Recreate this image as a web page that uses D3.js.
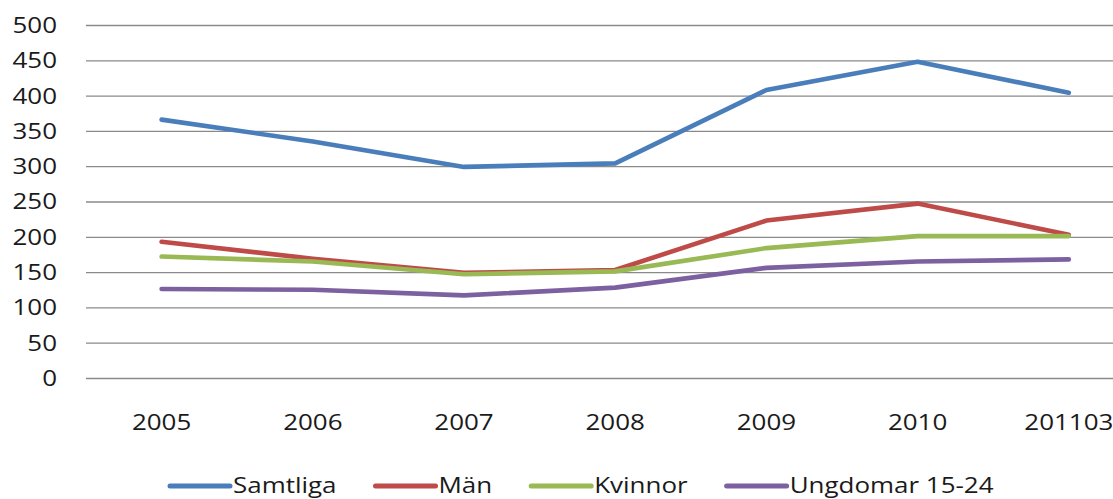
<!DOCTYPE html>
<html>
<head>
<meta charset="utf-8">
<script src="https://cdn.jsdelivr.net/npm/d3@7"></script>
<style>
  html, body { margin: 0; padding: 0; background: #fff; }
  svg { display: block; }
  text { font-family: "Open Sans", "DejaVu Sans", sans-serif; fill: #1a1a1a; }
</style>
</head>
<body>
<svg id="chart" width="1113" height="499"></svg>
<script>
// Categories (years / period) on the x axis
const categories = ["2005", "2006", "2007", "2008", "2009", "2010", "201103"];

// Series values
const samtliga = [366, 335, 299, 304, 408, 448, 404];
const man      = [193, 169, 149, 153, 223, 247, 203];
const kvinnor  = [172, 165, 147, 151, 184, 201, 201];
const ungdomar = [126, 125, 117, 128, 156, 165, 168];

// Y axis tick labels
const yTicks = [0, 50, 100, 150, 200, 250, 300, 350, 400, 450, 500];

const seriesNames = ["Samtliga", "Män", "Kvinnor", "Ungdomar 15-24"];
const seriesColors = ["#4a7ebb", "#be4b48", "#98b954", "#7d60a0"];

const series = [samtliga, man, kvinnor, ungdomar].map((values, i) => ({
  name: seriesNames[i],
  color: seriesColors[i],
  values
}));

const svg = d3.select("#chart");
const stretch = 1.18;           // horizontal glyph stretch of the labels
const fontSize = 22;

const plotLeft = 86, bandW = 151.2;
const plotTop = 25, plotBottom = 378;

const x = d3.scaleBand()
  .domain(categories)
  .range([plotLeft, plotLeft + bandW * categories.length])
  .paddingInner(0).paddingOuter(0);

const y = d3.scaleLinear().domain([0, 500]).range([plotBottom, plotTop]);

// Horizontal gridlines with y labels
const yAxis = svg.append("g")
  .attr("transform", `translate(${plotLeft},0)`)
  .call(d3.axisLeft(y).tickValues(yTicks).tickSize(-(1113 - plotLeft)).tickFormat(d3.format("d")));
yAxis.select(".domain").remove();
yAxis.selectAll(".tick line").attr("stroke", "#8a8a8a").attr("stroke-width", 1.3);
yAxis.selectAll(".tick text")
  .attr("font-size", fontSize)
  .attr("font-family", "Open Sans, DejaVu Sans, sans-serif")
  .attr("fill", "#1a1a1a")
  .attr("x", -29 / stretch)
  .attr("dy", "0.34em")
  .attr("transform", `scale(${stretch},1)`);

// Category labels
const xAxis = svg.append("g")
  .attr("transform", `translate(0,${plotBottom})`)
  .call(d3.axisBottom(x).tickSize(0));
xAxis.select(".domain").remove();
xAxis.selectAll(".tick text")
  .attr("font-size", fontSize)
  .attr("font-family", "Open Sans, DejaVu Sans, sans-serif")
  .attr("fill", "#1a1a1a")
  .attr("y", 52)
  .attr("dy", "0")
  .attr("text-anchor", "middle")
  .attr("transform", `scale(${stretch},1)`);

// Lines
const line = d3.line()
  .x((d, i) => x(categories[i]) + x.bandwidth() / 2)
  .y(d => y(d));

svg.append("g").selectAll("path")
  .data(series)
  .join("path")
  .attr("d", d => line(d.values))
  .attr("fill", "none")
  .attr("stroke", d => d.color)
  .attr("stroke-width", 4.6)
  .attr("stroke-linejoin", "round")
  .attr("stroke-linecap", "round");

// Legend
const legend = svg.append("g");
let cursor = 170;
const legY = 486, lineLen = 60, gap = 39;
series.forEach(s => {
  legend.append("line")
    .attr("x1", cursor).attr("x2", cursor + lineLen)
    .attr("y1", legY).attr("y2", legY)
    .attr("stroke", s.color).attr("stroke-width", 5)
    .attr("stroke-linecap", "round");
  const t = legend.append("text")
    .attr("transform", `translate(${cursor + lineLen + 3},${legY + 7}) scale(${stretch},1)`)
    .attr("font-size", fontSize)
    .text(s.name);
  const w = t.node().getComputedTextLength() * stretch;
  cursor += lineLen + 3 + w + gap;
});
</script>
</body>
</html>
